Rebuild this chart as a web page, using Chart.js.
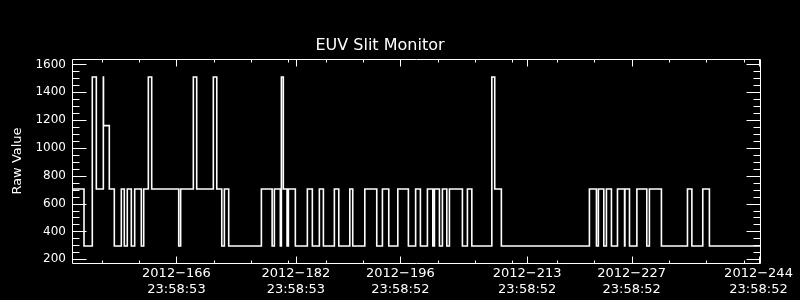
<!DOCTYPE html>
<html><head><meta charset="utf-8">
<script src="https://cdn.jsdelivr.net/npm/chart.js@4"></script>
<style>html,body{margin:0;padding:0;background:#000;}#wrap{width:800px;height:300px;}</style>
</head><body><div id="wrap"><canvas id="c" width="800" height="300"></canvas></div>
<script>
const chartTitle = 'EUV Slit Monitor';
const yAxisTitle = 'Raw Value';

// step series: day-of-year where each level starts, and the raw value
const stepDays = [152.00,153.61,154.72,155.26,156.20,156.22,157.00,157.67,158.61,159.01,159.41,159.95,160.40,161.29,161.61,162.23,162.68,166.30,166.56,168.26,168.71,170.94,171.40,172.07,172.42,173.00,177.38,178.82,179.12,179.92,180.06,180.32,180.82,181.00,181.93,183.54,184.21,185.15,185.69,187.16,187.75,189.23,189.62,191.24,192.84,193.60,194.45,195.66,197.08,198.05,198.69,199.63,200.35,200.57,201.24,201.64,202.23,202.58,204.32,204.99,205.58,208.26,208.65,209.54,221.34,222.28,222.54,223.27,223.62,224.29,225.10,226.05,226.10,226.71,227.70,229.03,229.38,230.99,234.48,235.07,236.53,237.42,244.20];
const stepValues = [705,295,1510,705,1510,1160,705,295,705,295,705,295,705,295,705,1510,705,295,705,1510,705,1510,705,295,705,295,705,295,705,295,1510,705,295,705,295,705,295,705,295,705,295,705,295,705,295,705,295,705,295,705,295,705,295,705,295,705,295,705,295,705,295,1510,705,295,705,295,705,295,705,295,705,295,705,295,705,295,705,295,705,295,705,295,295];

const xMajorDays = [166,182,196,213,227,244];
const xMajorDates = ['2012\u2212166','2012\u2212182','2012\u2212196','2012\u2212213','2012\u2212227','2012\u2212244'];
const xMajorTimes = ['23:58:53','23:58:53','23:58:52','23:58:52','23:58:52','23:58:52'];
const xMinorDays = [156,161,166,171,176,181,186,191,196,201,206,211,217,222,227,232,237,242];
const yMajorTicks = [200,400,600,800,1000,1200,1400,1600];
const yMinorTicks = [250,300,350,450,500,550,650,700,750,850,900,950,1050,1100,1150,1250,1300,1350,1450,1500,1550];

const idlFrame = {
  id: 'idlFrame',
  afterDraw(chart) {
    const {ctx, chartArea: a, scales: {x, y}} = chart;
    ctx.save();
    ctx.strokeStyle = '#fff';
    ctx.lineWidth = 1;
    const L = Math.round(a.left) + 0.5, R = Math.round(a.right) + 0.5;
    const T = Math.round(a.top) + 0.5, B = Math.round(a.bottom) + 0.5;
    ctx.beginPath();
    ctx.rect(L, T, R - L, B - T);
    const yt = (v, len) => {
      const p = Math.round(y.getPixelForValue(v)) + 0.5;
      ctx.moveTo(L, p); ctx.lineTo(L + len, p);
      ctx.moveTo(R, p); ctx.lineTo(R - len, p);
    };
    const xt = (v, len) => {
      const p = Math.round(x.getPixelForValue(v)) + 0.5;
      ctx.moveTo(p, B); ctx.lineTo(p, B - len);
      ctx.moveTo(p, T); ctx.lineTo(p, T + len);
    };
    yMajorTicks.forEach(v => yt(v, 14));
    yMinorTicks.forEach(v => yt(v, 7));
    xMajorDays.forEach(v => xt(v, 7));
    xMinorDays.forEach(v => xt(v, 3));
    ctx.stroke();
    ctx.restore();
  }
};

new Chart(document.getElementById('c'), {
  type: 'line',
  data: {
    datasets: [{
      data: stepDays.map((d, i) => ({x: d, y: stepValues[i]})),
      borderColor: '#ffffff',
      borderWidth: 1.6,
      pointRadius: 0,
      stepped: true,
      fill: false
    }]
  },
  options: {
    responsive: false,
    animation: false,
    devicePixelRatio: 1,
    layout: {padding: {left: 0, right: 40, top: 0, bottom: 0}},
    plugins: {
      legend: {display: false},
      tooltip: {enabled: false},
      title: {
        display: true, text: chartTitle, color: '#fff',
        font: {family: 'DejaVu Sans', size: 16, weight: 'normal'},
        padding: {top: 36, bottom: 3.8}
      }
    },
    scales: {
      x: {
        type: 'linear', min: 152, max: 244.2,
        grid: {display: false, drawTicks: false},
        border: {display: false},
        afterBuildTicks: s => { s.ticks = xMajorDays.map(v => ({value: v})); },
        ticks: {
          autoSkip: false, maxRotation: 0, minRotation: 0, color: '#fff', padding: 2,
          font: {family: 'DejaVu Sans', size: 13, lineHeight: 1.25},
          callback: v => { const i = xMajorDays.indexOf(v); return i < 0 ? '' : [xMajorDates[i], xMajorTimes[i]]; }
        },
        afterFit: s => { s.height = 37; }
      },
      y: {
        min: 173, max: 1639,
        grid: {display: false, drawTicks: false},
        border: {display: false},
        afterBuildTicks: s => { s.ticks = yMajorTicks.map(v => ({value: v})); },
        ticks: {color: '#fff', padding: 6, font: {family: 'DejaVu Sans', size: 12}, callback: v => String(v)},
        title: {display: true, text: yAxisTitle, color: '#fff', font: {family: 'DejaVu Sans', size: 13}, padding: {top: 10, bottom: 0}},
        afterFit: s => { s.width = 72; }
      }
    }
  },
  plugins: [idlFrame]
});
</script></body></html>
